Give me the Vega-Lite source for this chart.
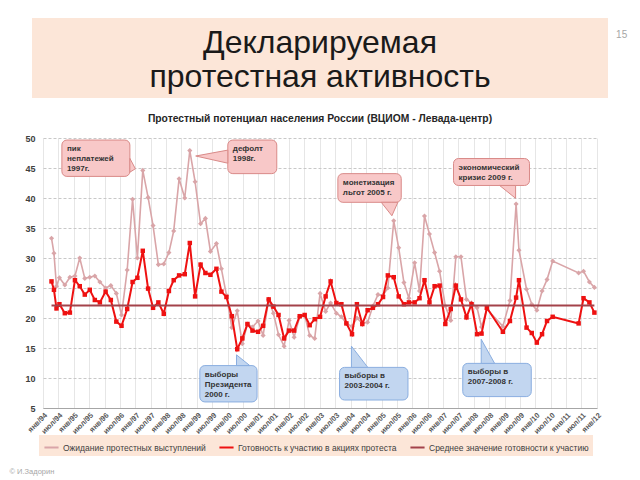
{
  "$schema": "https://vega.github.io/schema/vega-lite/v6.json",
  "background": "white",
  "padding": {"left": 9, "top": 18, "right": 4, "bottom": 4},
  "bounds": "flush",
  "center": true,
  "spacing": 40,
  "config": {"font": "Liberation Sans", "view": {"stroke": null}},
  "datasets": {
    "survey": [
      {"date": "1994-04-12", "expect": 33.3, "ready": 26.1},
      {"date": "1994-05-11", "expect": 30.8, "ready": 24.7},
      {"date": "1994-06-10", "expect": 25.3, "ready": 21.6},
      {"date": "1994-07-15", "expect": 26.7, "ready": 22.3},
      {"date": "1994-09-17", "expect": 25.5, "ready": 20.8},
      {"date": "1994-11-16", "expect": 26.8, "ready": 20.9},
      {"date": "1995-01-15", "expect": 27.0, "ready": 26.3},
      {"date": "1995-03-13", "expect": 30.0, "ready": 25.3},
      {"date": "1995-05-12", "expect": 26.6, "ready": 23.9},
      {"date": "1995-07-10", "expect": 26.8, "ready": 24.7},
      {"date": "1995-09-08", "expect": 27.0, "ready": 23.0},
      {"date": "1995-11-07", "expect": 26.0, "ready": 22.6},
      {"date": "1996-01-14", "expect": 25.0, "ready": 24.4},
      {"date": "1996-03-16", "expect": 25.4, "ready": 23.0},
      {"date": "1996-05-20", "expect": 24.1, "ready": 19.4},
      {"date": "1996-07-21", "expect": 20.5, "ready": 18.7},
      {"date": "1996-09-26", "expect": 28.0, "ready": 21.5},
      {"date": "1996-11-29", "expect": 39.8, "ready": 26.0},
      {"date": "1997-01-25", "expect": 30.0, "ready": 26.7},
      {"date": "1997-03-30", "expect": 44.6, "ready": 31.2},
      {"date": "1997-06-01", "expect": 40.1, "ready": 24.9},
      {"date": "1997-07-30", "expect": 35.4, "ready": 21.7},
      {"date": "1997-10-01", "expect": 28.9, "ready": 22.6},
      {"date": "1997-12-04", "expect": 29.0, "ready": 20.7},
      {"date": "1998-02-03", "expect": 30.9, "ready": 24.5},
      {"date": "1998-04-01", "expect": 34.5, "ready": 26.3},
      {"date": "1998-06-04", "expect": 43.2, "ready": 27.1},
      {"date": "1998-08-10", "expect": 40.0, "ready": 27.3},
      {"date": "1998-10-09", "expect": 47.9, "ready": 32.5},
      {"date": "1998-12-11", "expect": 42.7, "ready": 23.6},
      {"date": "1999-02-14", "expect": 35.7, "ready": 28.9},
      {"date": "1999-04-12", "expect": 36.6, "ready": 27.5},
      {"date": "1999-06-11", "expect": 31.1, "ready": 27.2},
      {"date": "1999-08-21", "expect": 32.4, "ready": 28.2},
      {"date": "1999-10-19", "expect": 28.2, "ready": 24.4},
      {"date": "1999-12-18", "expect": 23.8, "ready": 23.5},
      {"date": "2000-02-20", "expect": 18.4, "ready": 20.3},
      {"date": "2000-04-24", "expect": 21.2, "ready": 14.8},
      {"date": "2000-06-23", "expect": 15.7, "ready": 16.6},
      {"date": "2000-08-23", "expect": 19.0, "ready": 19.0},
      {"date": "2000-10-22", "expect": 18.5, "ready": 17.9},
      {"date": "2000-12-27", "expect": 19.5, "ready": 17.7},
      {"date": "2001-02-25", "expect": 17.1, "ready": 18.7},
      {"date": "2001-05-02", "expect": 23.1, "ready": 23.1},
      {"date": "2001-06-27", "expect": 20.8, "ready": 21.9},
      {"date": "2001-08-27", "expect": 17.2, "ready": 20.5},
      {"date": "2001-11-01", "expect": 15.3, "ready": 16.6},
      {"date": "2001-12-30", "expect": 19.6, "ready": 17.9},
      {"date": "2002-02-28", "expect": 16.8, "ready": 17.9},
      {"date": "2002-05-05", "expect": 20.2, "ready": 20.3},
      {"date": "2002-07-03", "expect": 20.5, "ready": 20.5},
      {"date": "2002-09-01", "expect": 17.1, "ready": 18.8},
      {"date": "2002-10-30", "expect": 16.6, "ready": 19.8},
      {"date": "2003-01-02", "expect": 24.1, "ready": 20.2},
      {"date": "2003-03-09", "expect": 21.1, "ready": 23.6},
      {"date": "2003-05-07", "expect": 22.5, "ready": 26.1},
      {"date": "2003-07-14", "expect": 20.8, "ready": 22.5},
      {"date": "2003-09-12", "expect": 20.2, "ready": 22.3},
      {"date": "2003-11-10", "expect": 19.1, "ready": 19.1},
      {"date": "2004-01-16", "expect": 18.6, "ready": 17.3},
      {"date": "2004-03-14", "expect": 20.0, "ready": 22.3},
      {"date": "2004-05-17", "expect": 19.1, "ready": 19.0},
      {"date": "2004-07-19", "expect": 19.3, "ready": 21.3},
      {"date": "2004-09-20", "expect": 22.0, "ready": 21.7},
      {"date": "2004-11-19", "expect": 23.9, "ready": 22.3},
      {"date": "2005-01-18", "expect": 23.8, "ready": 23.5},
      {"date": "2005-03-16", "expect": 25.0, "ready": 27.1},
      {"date": "2005-05-25", "expect": 36.2, "ready": 26.8},
      {"date": "2005-07-23", "expect": 31.7, "ready": 23.6},
      {"date": "2005-09-23", "expect": 25.9, "ready": 22.3},
      {"date": "2005-11-21", "expect": 23.3, "ready": 22.6},
      {"date": "2006-01-28", "expect": 29.2, "ready": 22.6},
      {"date": "2006-03-27", "expect": 24.5, "ready": 23.3},
      {"date": "2006-05-25", "expect": 37.0, "ready": 26.3},
      {"date": "2006-07-23", "expect": 34.0, "ready": 22.6},
      {"date": "2006-09-22", "expect": 30.9, "ready": 25.3},
      {"date": "2006-11-20", "expect": 27.8, "ready": 25.4},
      {"date": "2007-01-27", "expect": 22.0, "ready": 19.0},
      {"date": "2007-04-02", "expect": 19.6, "ready": 21.5},
      {"date": "2007-06-01", "expect": 30.2, "ready": 25.4},
      {"date": "2007-08-01", "expect": 30.2, "ready": 23.1},
      {"date": "2007-10-05", "expect": 23.1, "ready": 20.1},
      {"date": "2007-12-04", "expect": 22.5, "ready": 22.3},
      {"date": "2008-02-08", "expect": 21.7, "ready": 17.3},
      {"date": "2008-04-01", "expect": 18.5, "ready": 17.4},
      {"date": "2008-06-03", "expect": 21.5, "ready": 21.7},
      {"date": "2008-12-10", "expect": 18.6, "ready": 17.7},
      {"date": "2009-03-04", "expect": 22.9, "ready": 19.5},
      {"date": "2009-05-16", "expect": 39.0, "ready": 23.4},
      {"date": "2009-06-19", "expect": 31.3, "ready": 26.3},
      {"date": "2009-09-17", "expect": 24.8, "ready": 18.4},
      {"date": "2009-11-18", "expect": 22.3, "ready": 17.5},
      {"date": "2010-01-17", "expect": 21.3, "ready": 15.9},
      {"date": "2010-03-20", "expect": 24.5, "ready": 17.3},
      {"date": "2010-05-18", "expect": 26.4, "ready": 19.5},
      {"date": "2010-07-24", "expect": 29.5, "ready": 20.2},
      {"date": "2011-05-28", "expect": 27.5, "ready": 19.1},
      {"date": "2011-07-25", "expect": 27.8, "ready": 23.3},
      {"date": "2011-10-03", "expect": 26.0, "ready": 22.6},
      {"date": "2011-12-01", "expect": 25.1, "ready": 20.9}
    ],
    "mean": [
      {"date": "1994-04-12", "value": 22.1, "series": "mean"},
      {"date": "2011-12-01", "value": 22.1, "series": "mean"}
    ],
    "boxes": [
      {"id": "a", "kind": "pink", "text": "пик\nнеплатежей\n1997г.", "date": "1994-08-13", "date2": "1996-10-28", "value": 49.66, "value2": 43.6},
      {"id": "b", "kind": "pink", "text": "дефолт\n1998г.", "date": "2000-01-03", "date2": "2001-08-06", "value": 49.66, "value2": 44.06},
      {"id": "c", "kind": "pink", "text": "монетизация\nльгот 2005 г.", "date": "2003-08-01", "date2": "2005-08-22", "value": 44.06, "value2": 39.28},
      {"id": "d", "kind": "pink", "text": "экономический\nкризис 2009 г.", "date": "2007-05-04", "date2": "2009-10-22", "value": 46.58, "value2": 42.09},
      {"id": "e", "kind": "blue", "text": "выборы\nПрезидента\n2000 г.", "date": "1999-02-05", "date2": "2000-12-15", "value": 12.07, "value2": 6.01},
      {"id": "f", "kind": "blue", "text": "выборы в\n2003-2004 г.", "date": "2003-08-21", "date2": "2005-11-10", "value": 11.77, "value2": 6.33},
      {"id": "g", "kind": "blue", "text": "выборы в\n2007-2008 г.", "date": "2007-08-22", "date2": "2009-11-12", "value": 12.44, "value2": 6.9}
    ],
    "tails": [
      {"id": "a", "kind": "pink", "date": "1996-10-28", "value": 46.6, "value2": 44.3},
      {"id": "a", "kind": "pink", "date": "1997-01-01", "value": 44.87, "value2": 44.87},
      {"id": "b", "kind": "pink", "date": "1998-12-18", "value": 47.0, "value2": 47.0},
      {"id": "b", "kind": "pink", "date": "2000-01-03", "value": 47.98, "value2": 45.8},
      {"id": "c", "kind": "pink", "date": "2004-12-28", "value": 39.28, "value2": 39.28},
      {"id": "c", "kind": "pink", "date": "2005-05-03", "value": 37.04, "value2": 39.28},
      {"id": "c", "kind": "pink", "date": "2005-07-13", "value": 39.28, "value2": 39.28},
      {"id": "d", "kind": "pink", "date": "2008-11-01", "value": 42.09, "value2": 42.09},
      {"id": "d", "kind": "pink", "date": "2009-05-10", "value": 39.95, "value2": 42.09},
      {"id": "e", "kind": "blue", "date": "2000-04-15", "value": 13.86, "value2": 12.07},
      {"id": "e", "kind": "blue", "date": "2000-09-20", "value": 12.07, "value2": 12.07},
      {"id": "f", "kind": "blue", "date": "2004-01-09", "value": 15.3, "value2": 11.77},
      {"id": "f", "kind": "blue", "date": "2004-07-21", "value": 11.77, "value2": 11.77},
      {"id": "g", "kind": "blue", "date": "2008-03-28", "value": 16.45, "value2": 12.44},
      {"id": "g", "kind": "blue", "date": "2008-09-03", "value": 12.44, "value2": 12.44}
    ]
  },
  "vconcat": [
    {
      "width": 576,
      "height": 80,
      "view": {"fill": "#fce6d8", "stroke": null},
      "title": {"text": "15", "orient": "right", "angle": 0, "anchor": "start", "fontSize": 10, "fontWeight": "normal", "color": "#a6a6a6", "offset": -3, "dy": 12},
      "data": {"values": [{"t": "Декларируемая\nпротестная активность"}]},
      "mark": {"type": "text", "fontSize": 32, "lineHeight": 34, "lineBreak": "\n", "baseline": "middle", "align": "center", "dy": -15, "color": "#1a1a1a"},
      "encoding": {"text": {"field": "t", "type": "nominal"}}
    },
    {
      "width": 554,
      "height": 270,
      "title": {"text": "Протестный потенциал населения России (ВЦИОМ - Левада-центр)", "fontSize": 10.3, "fontWeight": "bold", "color": "#262626", "offset": 10, "anchor": "middle"},
      "encoding": {
        "x": {
          "field": "date", "type": "temporal",
          "scale": {"domain": [{"year": 1994, "month": 1, "date": 1}, {"year": 2012, "month": 1, "date": 1}], "nice": false},
          "axis": {"title": "© И.Задорин", "titleX": -34, "titleY": 63, "titleAlign": "left", "titleAnchor": null, "titleBaseline": "middle", "titleAngle": 0, "titleFontSize": 7.5, "titleFontWeight": "normal", "titleColor": "#a6a6a6",
            "tickCount": {"interval": "month", "step": 6}, "labelExpr": "(month(datum.value) == 0 ? 'янв/' : 'июл/') + timeFormat(datum.value, '%y')", "labelAngle": -45, "labelFontSize": 7.5, "labelFontWeight": "bold", "labelColor": "#595959", "labelOverlap": false, "labelFlush": false, "labelBound": false, "labelPadding": 3, "ticks": false, "domainColor": "#a6a6a6", "grid": true, "gridColor": "#e6e6e6"}
        },
        "y": {
          "field": "value", "type": "quantitative",
          "scale": {"domain": [5, 50], "nice": false, "zero": false},
          "axis": {"title": null, "values": [5, 10, 15, 20, 25, 30, 35, 40, 45, 50], "labelFontSize": 9, "labelFontWeight": "bold", "labelColor": "#404040", "labelPadding": 8, "ticks": false, "domain": false, "grid": true, "gridColor": "#c8c8c8", "gridDash": [3, 2]}
        }
      },
      "layer": [
        {
          "data": {"name": "survey"},
          "transform": [{"fold": ["expect", "ready"], "as": ["series", "value"]}, {"filter": "datum.series == 'expect'"}],
          "mark": {"type": "line", "strokeWidth": 1.6},
          "encoding": {
            "color": {
              "field": "series", "type": "nominal",
              "scale": {"domain": ["expect", "ready", "mean"], "range": ["#d9a5a8", "#ee1111", "#a3424a"]},
              "legend": {"orient": "none", "legendX": 7, "legendY": 417, "direction": "horizontal", "fillColor": "#fce6d8", "padding": 4, "symbolType": "stroke", "symbolStrokeWidth": 2, "symbolSize": 200, "labelFontSize": 8.5, "labelOffset": 3, "labelColor": "#404040", "columnPadding": 9, "title": null, "labelLimit": 300,
                "labelExpr": "datum.value == 'expect' ? 'Ожидание протестных выступлений' : datum.value == 'ready' ? 'Готовность к участию в акциях протеста' : 'Среднее значение готовности к участию'"}
            }
          }
        },
        {
          "data": {"name": "survey"},
          "transform": [{"fold": ["expect", "ready"], "as": ["series", "value"]}, {"filter": "datum.series == 'expect'"}],
          "mark": {"type": "point", "filled": true, "size": 26, "opacity": 1, "shape": "diamond"},
          "encoding": {"color": {"field": "series", "type": "nominal"}}
        },
        {
          "data": {"name": "survey"},
          "transform": [{"fold": ["expect", "ready"], "as": ["series", "value"]}, {"filter": "datum.series == 'ready'"}],
          "mark": {"type": "line", "strokeWidth": 2},
          "encoding": {"color": {"field": "series", "type": "nominal"}}
        },
        {
          "data": {"name": "survey"},
          "transform": [{"fold": ["expect", "ready"], "as": ["series", "value"]}, {"filter": "datum.series == 'ready'"}],
          "mark": {"type": "point", "filled": true, "size": 20, "opacity": 1, "shape": "square"},
          "encoding": {"color": {"field": "series", "type": "nominal"}}
        },
        {
          "data": {"name": "mean"},
          "mark": {"type": "line", "strokeWidth": 2},
          "encoding": {"color": {"field": "series", "type": "nominal"}}
        },
        {
          "data": {"name": "boxes"},
          "mark": {"type": "rect", "cornerRadius": 5, "strokeWidth": 1},
          "encoding": {
            "x2": {"field": "date2"},
            "y2": {"field": "value2"},
            "fill": {"field": "kind", "type": "nominal", "scale": {"domain": ["pink", "blue"], "range": ["#f8c8c8", "#c2d6f0"]}, "legend": null},
            "stroke": {"field": "kind", "type": "nominal", "scale": {"domain": ["pink", "blue"], "range": ["#d98a88", "#8aaee0"]}, "legend": null}
          }
        },
        {
          "data": {"name": "tails"},
          "mark": {"type": "area", "orient": "vertical", "strokeWidth": 1},
          "encoding": {
            "y2": {"field": "value2"},
            "detail": {"field": "id", "type": "nominal"},
            "fill": {"field": "kind", "type": "nominal", "legend": null},
            "stroke": {"field": "kind", "type": "nominal", "legend": null}
          }
        },
        {
          "data": {"name": "boxes"},
          "mark": {"type": "text", "align": "left", "baseline": "top", "dx": 5, "dy": 5, "fontSize": 8, "fontWeight": "bold", "lineHeight": 10, "lineBreak": "\n", "color": "#333333"},
          "encoding": {"text": {"field": "text", "type": "nominal"}}
        }
      ]
    }
  ]
}
